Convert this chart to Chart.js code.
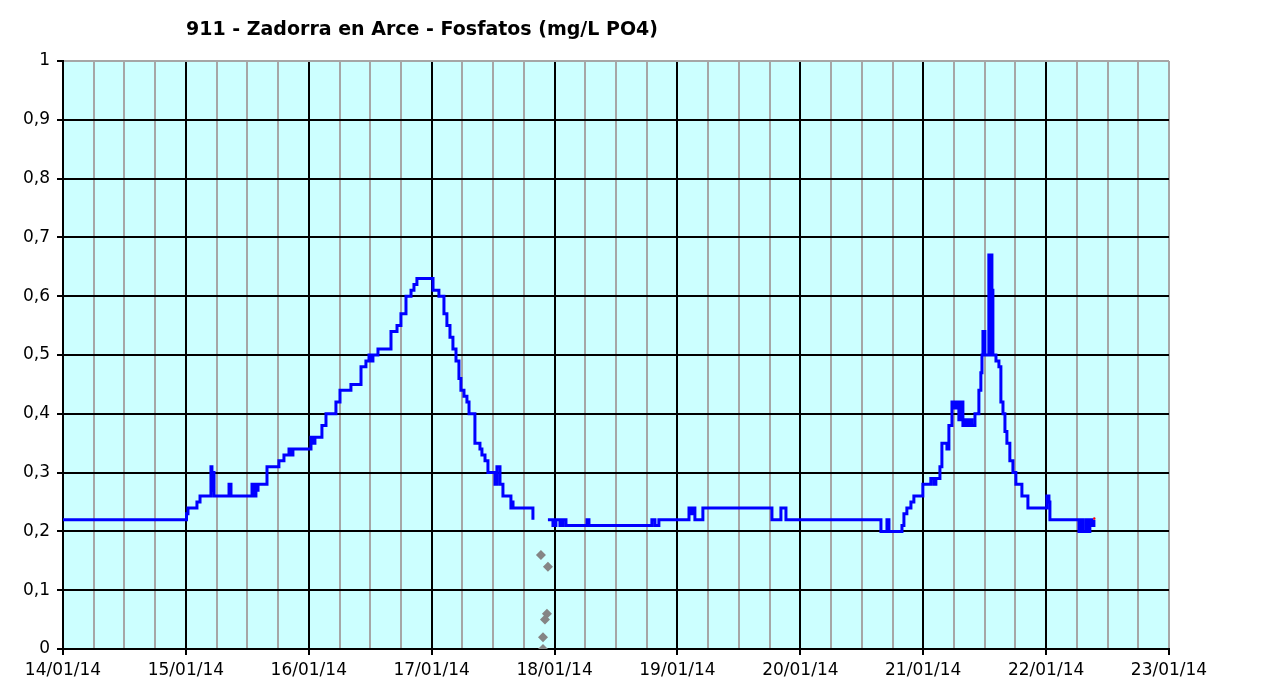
<!DOCTYPE html>
<html>
<head>
<meta charset="utf-8">
<script src="https://cdn.jsdelivr.net/npm/chart.js@4/dist/chart.umd.min.js"></script>
<style>
  html,body{margin:0;padding:0;background:#fff;}
  #wrap{width:1265px;height:689px;}
</style>
</head>
<body>
<div id="wrap"><canvas id="phChart" width="1265" height="689"></canvas></div>
<script>
const chartTitle = "911 - Zadorra en Arce - Fosfatos (mg/L PO4)";
const dayLabels = ["14/01/14","15/01/14","16/01/14","17/01/14","18/01/14","19/01/14","20/01/14","21/01/14","22/01/14","23/01/14"];
const yLabels = ["0","0,1","0,2","0,3","0,4","0,5","0,6","0,7","0,8","0,9","1"];

// time in days since 14/01/14 00:00, value where the reading changes
const times = [
  0, 1.005, 1.017, 1.090, 1.115, 1.204, 1.212, 1.221, 1.229, 1.351, 1.367,
  1.538, 1.546, 1.554, 1.562, 1.570, 1.579, 1.587, 1.660, 1.757, 1.798,
  1.839, 1.847, 1.855, 1.863, 1.871, 1.896, 2.018, 2.034, 2.050, 2.107,
  2.140, 2.221, 2.254, 2.343, 2.425, 2.465, 2.490, 2.506, 2.522, 2.563,
  2.669, 2.718, 2.750, 2.791, 2.832, 2.856, 2.880, 3.011, 3.059, 3.100,
  3.124, 3.149, 3.173, 3.198, 3.222, 3.238, 3.263, 3.287, 3.304, 3.352,
  3.393, 3.409, 3.434, 3.458, 3.515, 3.531, 3.556, 3.580, 3.645, 3.653,
  3.662, 3.824, 3.881, 3.946, 3.987, 4.011, 4.044, 4.068, 4.093,
  4.264, 4.280, 4.792, 4.817, 4.849, 5.094, 5.110,
  5.118, 5.142, 5.207, 5.769, 5.842, 5.883, 6.656, 6.705, 6.721, 6.827,
  6.843, 6.867, 6.900, 6.924, 6.997, 7.062, 7.087, 7.103, 7.136, 7.152,
  7.193, 7.209, 7.234, 7.258, 7.274, 7.290, 7.307, 7.323, 7.347, 7.364,
  7.380, 7.396, 7.421, 7.453, 7.469, 7.478, 7.486, 7.502, 7.534, 7.547,
  7.551, 7.559, 7.567, 7.592, 7.616, 7.632, 7.649, 7.665, 7.681, 7.705,
  7.730, 7.754, 7.803, 7.852, 8.006, 8.023, 8.031, 8.267, 8.283, 8.299,
  8.324, 8.340, 8.356, 8.373, 8.389
];
const values = [
  0.22, 0.23, 0.24, 0.25, 0.26, 0.31, 0.27, 0.30, 0.26, 0.28, 0.26,
  0.28, 0.27, 0.28, 0.26, 0.28, 0.27, 0.28, 0.31, 0.32, 0.33,
  0.34, 0.33, 0.34, 0.33, 0.34, 0.34, 0.36, 0.35, 0.36, 0.38,
  0.40, 0.42, 0.44, 0.45, 0.48, 0.49, 0.50, 0.49, 0.50, 0.51,
  0.54, 0.55, 0.57, 0.60, 0.61, 0.62, 0.63, 0.61, 0.60, 0.57,
  0.55, 0.53, 0.51, 0.49, 0.46, 0.44, 0.43, 0.42, 0.40, 0.35,
  0.34, 0.33, 0.32, 0.30, 0.28, 0.31, 0.28, 0.26, 0.24, 0.25,
  0.24, 0.22, null, 0.22, 0.21, 0.22, 0.21, 0.22, 0.21,
  0.22, 0.21, 0.22, 0.21, 0.22, 0.24, 0.23,
  0.24, 0.22, 0.24, 0.22, 0.24, 0.22, 0.20, 0.22, 0.20, 0.21,
  0.23, 0.24, 0.25, 0.26, 0.28, 0.29, 0.28, 0.29, 0.31, 0.35,
  0.34, 0.38, 0.42, 0.41, 0.42, 0.39, 0.42, 0.38, 0.39, 0.38,
  0.39, 0.38, 0.40, 0.44, 0.47, 0.50, 0.54, 0.50, 0.67, 0.50,
  0.67, 0.61, 0.50, 0.49, 0.48, 0.42, 0.40, 0.37, 0.35, 0.32,
  0.30, 0.28, 0.26, 0.24, 0.26, 0.25, 0.22, 0.20, 0.22, 0.20,
  0.22, 0.20, 0.22, 0.21, 0.22
];

// grey diamonds around the data gap
const outlierTimes = [3.889, 3.946, 3.938, 3.922, 3.906, 3.906];
const outlierValues = [0.16, 0.14, 0.06, 0.05, 0.02, 0.00];

const lastTimes = [8.392];
const lastValues = [0.222];

const plotBg = {
  id:'plotBg',
  beforeDraw(chart){
    const {ctx, chartArea:a} = chart;
    ctx.save();
    ctx.fillStyle = '#ccffff';
    ctx.fillRect(a.left, a.top, a.right-a.left, a.bottom-a.top);
    ctx.restore();
  },
  afterDraw(chart){
    const ctx = chart.ctx;
    ctx.save();
    ctx.font = "bold 19px 'DejaVu Sans', Verdana, sans-serif";
    ctx.fillStyle = '#000';
    ctx.textAlign = 'center';
    ctx.textBaseline = 'middle';
    ctx.fillText(chartTitle, 422, 30);
    ctx.restore();
  }
};

const pts = (xs, ys) => xs.map((x,i)=>({x:x, y:ys[i]}));
const tickFont = {family:"'DejaVu Sans', Verdana, sans-serif", size:17};

const ctx = document.getElementById("phChart").getContext("2d");

const chart = new Chart(ctx,{
  type:'line',
  data:{
    datasets:[
      {label:'Fosfatos',data:pts(times,values),borderColor:'#0000ff',borderWidth:3,
       stepped:true,pointRadius:0,spanGaps:false,order:2},
      {label:'Outliers',data:pts(outlierTimes,outlierValues),showLine:false,
       pointStyle:'rectRot',pointRadius:5,pointBackgroundColor:'#858585',
       pointBorderColor:'#858585',pointBorderWidth:0,order:1},
      {label:'Last',data:pts(lastTimes,lastValues),showLine:false,
       pointRadius:1.2,pointBackgroundColor:'#ff0000',pointBorderWidth:0,order:0}
    ]
  },
  options:{
    responsive:false,
    animation:false,
    layout:{padding:{top:61,right:96,left:0,bottom:0}},
    plugins:{legend:{display:false},tooltip:{enabled:false},title:{display:false}},
    scales:{
      x:{
        type:'linear',min:0,max:9,
        afterFit(s){ s.height = 40; },
        ticks:{
          stepSize:0.25,autoSkip:false,maxRotation:0,padding:5,color:'#000',font:tickFont,
          callback:(v)=>Number.isInteger(v) ? dayLabels[v] : ''
        },
        grid:{
          tickLength:6,
          lineWidth:2,
          color:(c)=>{
            const v = c.tick.value;
            if(v===9) return '#a6a6a6';
            return Number.isInteger(v) ? '#000' : '#a6a6a6';
          },
          tickColor:(c)=>Number.isInteger(c.tick.value) ? '#000' : 'rgba(0,0,0,0)'
        },
        border:{color:'#000',width:2}
      },
      y:{
        min:0,max:1,
        afterFit(s){ s.width = 63; },
        ticks:{
          stepSize:0.1,padding:7,color:'#000',font:tickFont,
          callback:(v,i)=>yLabels[i]
        },
        grid:{
          tickLength:6,lineWidth:2,
          color:(c)=>c.index===10 ? '#a6a6a6' : '#000',
          tickColor:'#000'
        },
        border:{color:'#000',width:2}
      }
    }
  },
  plugins:[plotBg]
});
</script>
</body>
</html>
